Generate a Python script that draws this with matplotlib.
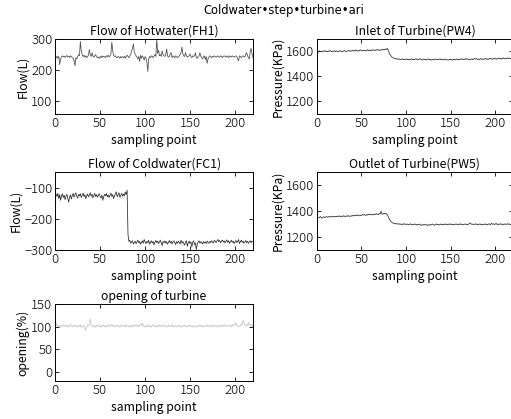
import numpy as np
import matplotlib
matplotlib.use("Agg")
import matplotlib.pyplot as plt

plt.rcParams['font.family'] = ['Noto Sans CJK JP', 'DejaVu Sans']
plt.rcParams['font.weight'] = 'light'

# hot water flow FH1 (L)
fh1 = [240, 245, 238, 244, 218, 236, 242, 246, 243, 245, 241, 244, 247, 243, 245, 241, 246, 244, 240, 238,
       232, 214, 240, 236, 244, 250, 246, 292, 262, 250, 244, 248, 242, 246, 240, 244, 248, 266, 250, 244,
       256, 246, 242, 246, 250, 244, 240, 242, 238, 244, 240, 246, 242, 245, 243, 240, 246, 244, 248, 242,
       246, 252, 290, 262, 248, 244, 246, 242, 240, 244, 242, 238, 244, 240, 243, 241, 245, 238, 244, 248,
       244, 240, 246, 250, 262, 270, 284, 258, 250, 246, 242, 236, 244, 228, 248, 238, 246, 240, 232, 244,
       238, 226, 196, 236, 244, 240, 246, 244, 240, 246, 250, 244, 300, 254, 264, 246, 250, 244, 262, 250,
       246, 244, 250, 268, 246, 242, 244, 252, 256, 240, 246, 244, 240, 246, 244, 240, 242, 246, 250, 256,
       274, 252, 246, 244, 256, 246, 242, 244, 246, 252, 244, 240, 246, 244, 246, 256, 240, 238, 244, 246,
       256, 244, 240, 236, 244, 246, 234, 244, 222, 236, 242, 246, 244, 240, 244, 242, 246, 244, 242, 244,
       246, 244, 242, 246, 244, 240, 244, 246, 244, 242, 246, 244, 240, 246, 244, 242, 246, 244, 242, 244,
       246, 244, 236, 230, 246, 244, 240, 244, 246, 244, 242, 252, 256, 246, 240, 236, 262, 270, 252, 240]

# turbine inlet pressure PW4 (KPa)
pw4 = [1600, 1595, 1605, 1598, 1602, 1596, 1604, 1600, 1607, 1599, 1603, 1597, 1605, 1601, 1608, 1602, 1598, 1604, 1600, 1606,
       1599, 1605, 1601, 1596, 1603, 1607, 1600, 1598, 1604, 1601, 1606, 1602, 1599, 1605, 1603, 1608, 1604, 1601, 1606, 1610,
       1603, 1609, 1605, 1612, 1606, 1602, 1610, 1607, 1613, 1608, 1604, 1611, 1606, 1609, 1603, 1610, 1614, 1607, 1611, 1605,
       1612, 1608, 1614, 1609, 1606, 1613, 1610, 1616, 1611, 1608, 1614, 1610, 1616, 1612, 1618, 1613, 1620, 1615, 1625, 1612,
       1590, 1575, 1568, 1556, 1552, 1548, 1545, 1540, 1543, 1538, 1541, 1536, 1540, 1534, 1538, 1541, 1535, 1539, 1533, 1537,
       1540, 1534, 1538, 1532, 1537, 1541, 1535, 1539, 1533, 1538, 1542, 1536, 1540, 1534, 1539, 1543, 1537, 1531, 1536, 1540,
       1534, 1538, 1532, 1537, 1541, 1535, 1539, 1530, 1534, 1538, 1532, 1536, 1540, 1534, 1538, 1533, 1537, 1541, 1535, 1539,
       1533, 1537, 1532, 1536, 1540, 1534, 1531, 1535, 1539, 1533, 1537, 1530, 1534, 1538, 1532, 1536, 1540, 1534, 1538, 1533,
       1537, 1542, 1536, 1540, 1534, 1538, 1544, 1537, 1541, 1535, 1539, 1533, 1537, 1541, 1535, 1539, 1544, 1538, 1542, 1536,
       1540, 1534, 1538, 1543, 1537, 1541, 1535, 1540, 1545, 1538, 1542, 1536, 1540, 1546, 1539, 1543, 1537, 1541, 1547, 1540,
       1544, 1538, 1542, 1548, 1541, 1545, 1539, 1543, 1549, 1542, 1546, 1540, 1544, 1550, 1543, 1547, 1541, 1545, 1551, 1546]

# cold water flow FC1 (L)
fc1 = [-120, -128, -118, -135, -122, -140, -126, -119, -131, -124, -138, -127, -121, -134, -146, -129, -123, -136, -125, -118,
       -130, -122, -116, -127, -133, -121, -126, -119, -131, -124, -117, -128, -122, -135, -126, -120, -129, -123, -116, -127,
       -121, -132, -125, -118, -128, -122, -130, -124, -119, -127, -133, -124, -140, -128, -121, -126, -118, -129, -123, -131,
       -124, -117, -128, -122, -135, -126, -119, -113, -129, -122, -116, -131, -124, -118, -127, -120, -126, -114, -121, -108,
       -250, -272, -268, -278, -274, -270, -280, -276, -271, -279, -273, -268, -277, -272, -281, -275, -270, -278, -266, -274,
       -279, -272, -276, -268, -281, -274, -270, -277, -272, -283, -275, -269, -276, -271, -279, -273, -268, -277, -285, -272,
       -276, -270, -278, -273, -281, -275, -269, -277, -272, -280, -274, -270, -276, -282, -273, -278, -271, -275, -280, -268,
       -277, -272, -279, -284, -274, -270, -288, -276, -271, -279, -273, -290, -275, -270, -282, -277, -298, -281, -274, -270,
       -278, -273, -276, -280, -272, -277, -274, -279, -271, -275, -278, -272, -276, -270, -274, -277, -268, -272, -276, -270,
       -266, -273, -269, -276, -271, -268, -274, -270, -277, -272, -267, -275, -270, -278, -273, -268, -275, -271, -279, -274,
       -269, -276, -272, -266, -279, -273, -268, -275, -271, -278, -274, -269, -276, -272, -278, -273, -270, -276, -271, -274]

# turbine outlet pressure PW5 (KPa)
pw5 = [1355, 1348, 1352, 1358, 1350, 1346, 1354, 1357, 1351, 1355, 1359, 1353, 1356, 1360, 1354, 1358, 1362, 1355, 1359, 1356,
       1360, 1357, 1362, 1358, 1364, 1360, 1357, 1363, 1359, 1365, 1361, 1358, 1364, 1360, 1366, 1362, 1359, 1365, 1361, 1367,
       1363, 1368, 1364, 1370, 1366, 1372, 1368, 1364, 1370, 1367, 1373, 1369, 1375, 1371, 1367, 1374, 1370, 1376, 1372, 1378,
       1374, 1370, 1377, 1373, 1379, 1375, 1381, 1377, 1373, 1382, 1378, 1398, 1380, 1376, 1383, 1379, 1385, 1378, 1372, 1360,
       1342, 1330, 1322, 1314, 1310, 1306, 1308, 1303, 1305, 1300, 1304, 1299, 1303, 1298, 1302, 1296, 1300, 1304, 1298, 1301,
       1297, 1301, 1295, 1299, 1303, 1297, 1300, 1294, 1298, 1302, 1296, 1299, 1293, 1297, 1301, 1295, 1290, 1294, 1298, 1292,
       1296, 1300, 1294, 1290, 1296, 1292, 1298, 1293, 1297, 1301, 1295, 1291, 1297, 1302, 1296, 1299, 1293, 1297, 1301, 1296,
       1300, 1294, 1298, 1302, 1296, 1300, 1295, 1299, 1303, 1297, 1301, 1296, 1300, 1294, 1298, 1302, 1297, 1301, 1295, 1299,
       1303, 1297, 1300, 1296, 1299, 1302, 1297, 1300, 1296, 1299, 1304, 1310, 1302, 1298, 1301, 1296, 1300, 1303, 1297, 1301,
       1295, 1299, 1302, 1296, 1300, 1294, 1298, 1302, 1297, 1301, 1295, 1299, 1303, 1297, 1300, 1306, 1299, 1303, 1297, 1301,
       1305, 1298, 1302, 1296, 1300, 1304, 1298, 1301, 1295, 1299, 1303, 1297, 1300, 1304, 1298, 1302, 1296, 1300, 1303, 1298]

# turbine opening (%)
opening = [108, 101, 104, 100, 103, 99, 102, 105, 101, 103, 100, 104, 102, 99, 103, 101, 105, 102, 100, 103,
           101, 104, 100, 102, 99, 103, 101, 104, 98, 102, 100, 103, 95, 92, 100, 104, 102, 106, 118, 104,
           101, 103, 100, 102, 99, 103, 101, 104, 100, 102, 99, 103, 101, 104, 100, 102, 99, 103, 101, 104,
           100, 102, 105, 101, 103, 99, 102, 104, 100, 103, 101, 99, 102, 104, 100, 103, 101, 104, 99, 102,
           104, 100, 102, 99, 103, 101, 104, 100, 102, 105, 101, 103, 100, 104, 106, 102, 108, 103, 100, 102,
           99, 103, 101, 104, 100, 102, 99, 103, 105, 101, 103, 100, 102, 99, 104, 101, 103, 100, 102, 104,
           100, 103, 101, 99, 102, 104, 100, 103, 101, 104, 99, 102, 100, 103, 101, 99, 102, 104, 100, 102,
           99, 103, 101, 104, 100, 102, 99, 103, 101, 104, 100, 102, 99, 103, 101, 100, 102, 99, 103, 101,
           104, 100, 102, 99, 103, 101, 100, 102, 104, 100, 103, 101, 99, 102, 104, 100, 103, 101, 104, 100,
           102, 99, 103, 101, 104, 100, 102, 105, 101, 103, 100, 102, 104, 101, 103, 100, 104, 102, 106, 103,
           109, 104, 101, 103, 100, 102, 106, 104, 114, 108, 103, 105, 101, 104, 110, 103, 106, 101, 104, 100]

sample = np.arange(1, len(fh1) + 1)

panels = [
    # (rect, data, title, ylabel, ylim, yticks, color)
    ([0.108, 0.728, 0.387, 0.179], fh1, 'Flow of Hotwater(FH1)', 'Flow(L)', (60, 300), [100, 200, 300], '#4a4a4a'),
    ([0.620, 0.728, 0.384, 0.179], pw4, 'Inlet of Turbine(PW4)', 'Pressure(KPa)', (1100, 1700), [1200, 1400, 1600], '#2a2a2a'),
    ([0.108, 0.403, 0.387, 0.186], fc1, 'Flow of Coldwater(FC1)', 'Flow(L)', (-300, -50), [-300, -200, -100], '#2a2a2a'),
    ([0.620, 0.403, 0.384, 0.186], pw5, 'Outlet of Turbine(PW5)', 'Pressure(KPa)', (1100, 1700), [1200, 1400, 1600], '#2a2a2a'),
    ([0.108, 0.091, 0.387, 0.183], opening, 'opening of turbine', 'opening(%)', (-20, 150), [0, 50, 100, 150], '#c4c4c4'),
]

fig = plt.figure(figsize=(5.11, 4.19), dpi=100)

for rect, data, title, ylabel, ylim, yticks, color in panels:
    ax = fig.add_axes(rect)
    ax.plot(sample, data, color=color, lw=0.55)
    ax.set_xlim(0, 220)
    ax.set_ylim(*ylim)
    ax.set_xticks([0, 50, 100, 150, 200])
    ax.set_yticks(yticks)
    ax.tick_params(direction='in', top=True, right=True, length=3, width=0.6, labelsize=9.5, pad=2)
    for s in ax.spines.values():
        s.set_linewidth(0.7)
    ax.set_title(title, fontsize=8.8, pad=3)
    ax.set_xlabel('sampling point', fontsize=8.8, labelpad=3)
    ax.set_ylabel(ylabel, fontsize=8.8, labelpad=1)

fig.text(0.555, 0.976, 'Coldwater•step•turbine•ari', ha='center', va='center', fontsize=8.3,
         family=['DejaVu Sans'], weight='normal', color='black')

fig.savefig('out.png', dpi=100)
